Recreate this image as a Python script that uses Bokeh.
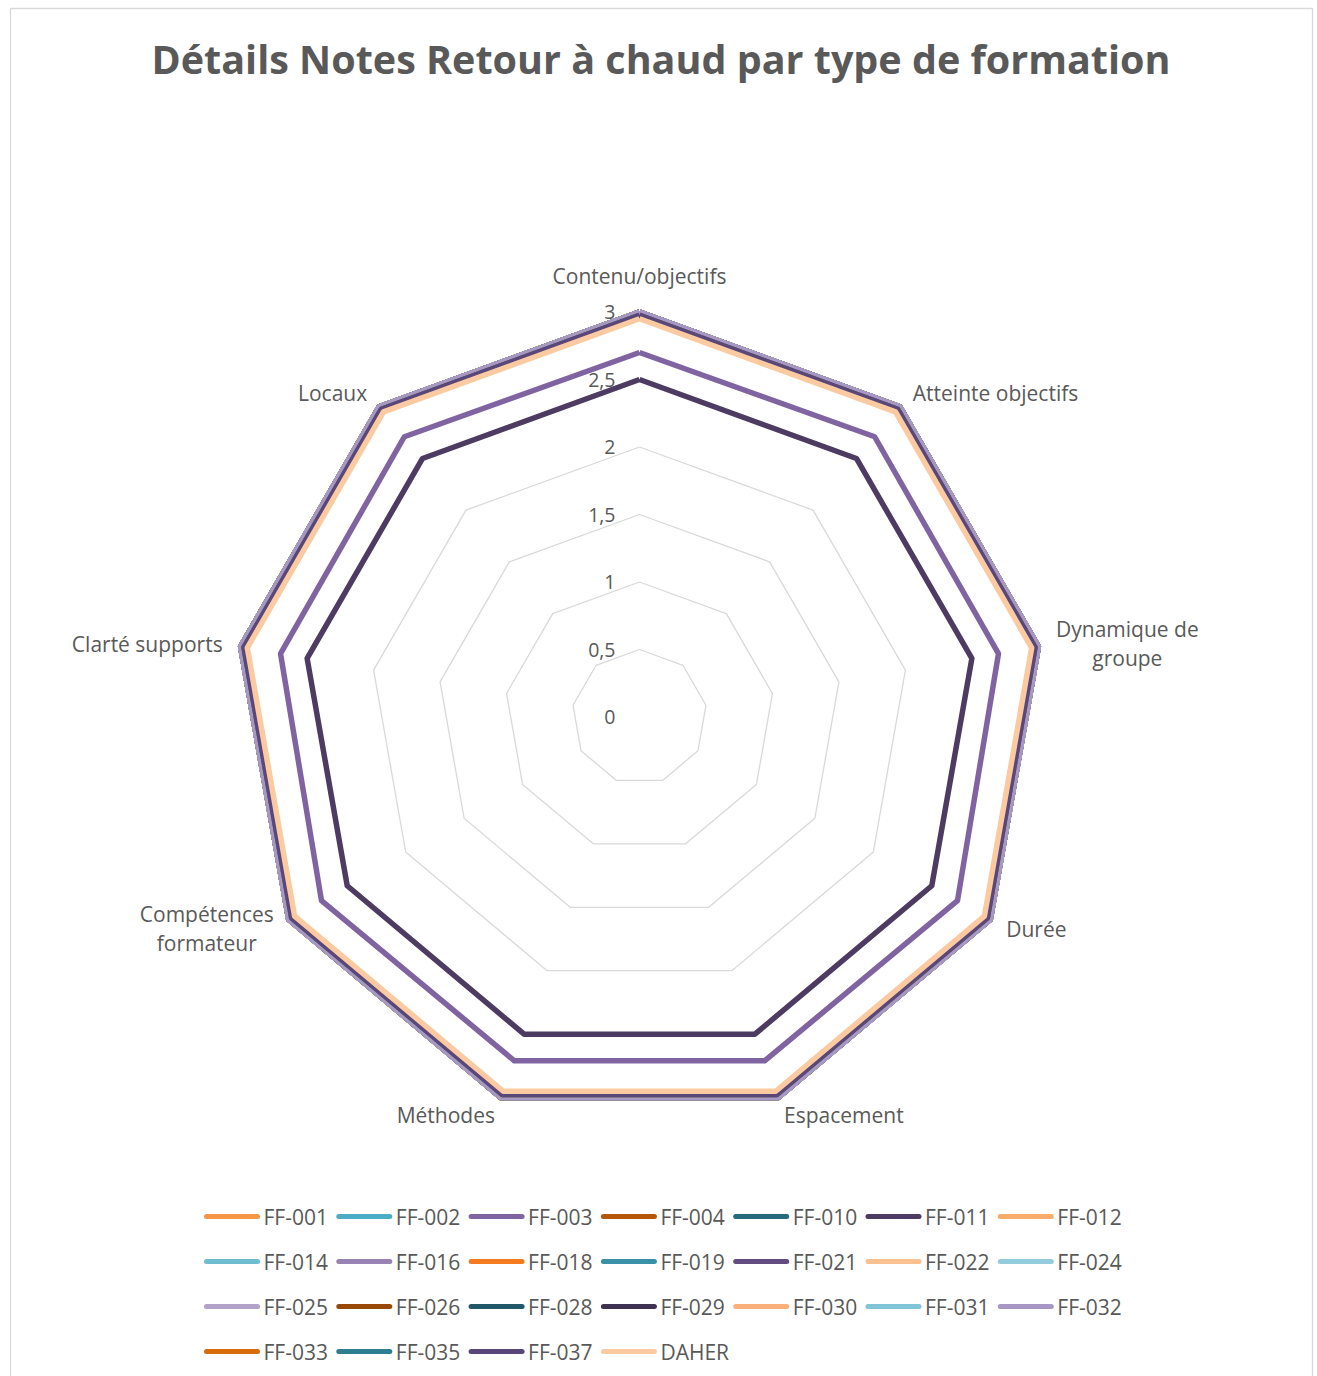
import math
from bokeh.plotting import figure
from bokeh.models import Range1d
from bokeh.core.properties import value
from bokeh.embed import file_html
from bokeh.resources import INLINE

# Radar axes (clockwise from the top)
categories = ["Contenu/objectifs", "Atteinte objectifs", "Dynamique de\ngroupe", "Durée",
              "Espacement", "Méthodes", "Compétences\nformateur", "Clarté supports", "Locaux"]

series_names = ["FF-001", "FF-002", "FF-003", "FF-004", "FF-010", "FF-011", "FF-012",
                "FF-014", "FF-016", "FF-018", "FF-019", "FF-021", "FF-022", "FF-024",
                "FF-025", "FF-026", "FF-028", "FF-029", "FF-030", "FF-031", "FF-032",
                "FF-033", "FF-035", "FF-037", "DAHER"]

series_colors = ["#F79646", "#4BACC6", "#8064A2", "#B65708", "#276A7C", "#4D3B62", "#F9AB6B",
                 "#6FBDD1", "#9983B5", "#F47B20", "#3A90A7", "#624C80", "#FBC08F", "#93CDDD",
                 "#B3A2C7", "#984807", "#205867", "#3F3151", "#FAB07A", "#7FC4D7", "#A896C4",
                 "#D86B0C", "#2E7E92", "#5A477A", "#FBCAA0"]

# Scores per training (one value per axis)
ff_001 = [3, 3, 3, 3, 3, 3, 3, 3, 3]
ff_002 = [3, 3, 3, 3, 3, 3, 3, 3, 3]
ff_003 = [2.7, 2.71, 2.7, 2.72, 2.71, 2.71, 2.72, 2.7, 2.71]
ff_004 = [3, 3, 3, 3, 3, 3, 3, 3, 3]
ff_010 = [3, 3, 3, 3, 3, 3, 3, 3, 3]
ff_011 = [2.5, 2.5, 2.5, 2.5, 2.5, 2.5, 2.5, 2.5, 2.5]
ff_012 = [3, 3, 3, 3, 3, 3, 3, 3, 3]
ff_014 = [3, 3, 3, 3, 3, 3, 3, 3, 3]
ff_016 = [3, 3, 3, 3, 3, 3, 3, 3, 3]
ff_018 = [3, 3, 3, 3, 3, 3, 3, 3, 3]
ff_019 = [3, 3, 3, 3, 3, 3, 3, 3, 3]
ff_021 = [3, 3, 3, 3, 3, 3, 3, 3, 3]
ff_022 = [3, 3, 3, 3, 3, 3, 3, 3, 3]
ff_024 = [3, 3, 3, 3, 3, 3, 3, 3, 3]
ff_025 = [3, 3, 3, 3, 3, 3, 3, 3, 3]
ff_026 = [3, 3, 3, 3, 3, 3, 3, 3, 3]
ff_028 = [3, 3, 3, 3, 3, 3, 3, 3, 3]
ff_029 = [3, 3, 3, 3, 3, 3, 3, 3, 3]
ff_030 = [3, 3, 3, 3, 3, 3, 3, 3, 3]
ff_031 = [3, 3, 3, 3, 3, 3, 3, 3, 3]
ff_032 = [3, 3, 3, 3, 3, 3, 3, 3, 3]
ff_033 = [2.975, 2.975, 2.975, 2.975, 2.975, 2.975, 2.975, 2.975, 2.975]
ff_035 = [2.975, 2.975, 2.975, 2.975, 2.975, 2.975, 2.975, 2.975, 2.975]
ff_037 = [2.975, 2.975, 2.975, 2.975, 2.975, 2.975, 2.975, 2.975, 2.975]
daher = [2.95, 2.95, 2.95, 2.95, 2.95, 2.95, 2.95, 2.95, 2.95]

series_values = [ff_001, ff_002, ff_003, ff_004, ff_010, ff_011, ff_012, ff_014, ff_016,
                 ff_018, ff_019, ff_021, ff_022, ff_024, ff_025, ff_026, ff_028, ff_029,
                 ff_030, ff_031, ff_032, ff_033, ff_035, ff_037, daher]

ring_values = [0.5, 1, 1.5, 2, 2.5, 3]
tick_values = [0, 0.5, 1, 1.5, 2, 2.5, 3]
tick_labels = ["0", "0,5", "1", "1,5", "2", "2,5", "3"]

title = "Détails Notes Retour à chaud par type de formation"

W, H = 1317, 1376
CX, CY = 639, 716.5      # radar centre (screen px)
SCALE = 135.0            # px per score unit
FONT = value("Open Sans")
TXT = "#595959"

n = len(categories)
angles = [2 * math.pi * k / n for k in range(n)]


def polygon(vals):
    xs = [CX + v * SCALE * math.sin(a) for v, a in zip(vals, angles)]
    ys = [CY - v * SCALE * math.cos(a) for v, a in zip(vals, angles)]
    return xs + xs[:1], ys + ys[:1]


p = figure(width=W, height=H, x_range=Range1d(0, W), y_range=Range1d(H, 0),
           output_backend="svg", toolbar_location=None, min_border=0,
           x_axis_location=None, y_axis_location=None)
p.xgrid.visible = False
p.ygrid.visible = False
p.outline_line_color = None
p.background_fill_color = "white"

# chart frame
p.quad(left=[10], right=[1312], top=[8], bottom=[1420], fill_color=None,
       line_color="#D9D9D9", line_width=1.3)

# title
p.text(x=[W / 2 + 2], y=[58], text=[title], text_font=FONT, text_font_style="bold",
       text_font_size="39.5px", text_color=TXT, text_align="center", text_baseline="middle")

# grid rings
for rv in ring_values:
    xs, ys = polygon([rv] * n)
    p.line(xs, ys, line_color="#D9D9D9", line_width=1.3)

# value labels along the top axis
p.text(x=[CX - 24] * len(tick_values), y=[CY - v * SCALE for v in tick_values],
       text=tick_labels, text_font=FONT, text_font_size="19.5px", text_color=TXT,
       text_align="right", text_baseline="middle")

# category labels: offset from each outer vertex
label_off = [(0, -36, "center"), (13, -14, "left"), (19, -3, "left"), (16, 9, "left"),
             (6, 17, "left"), (-6, 17, "right"), (-16, 9, "right"), (-18, -3, "right"),
             (-12, -14, "right")]
ox, oy = polygon([3] * n)
for k, cat in enumerate(categories):
    dx, dy, al = label_off[k]
    lines = cat.split("\n")
    x0 = ox[k] + dx
    y0 = oy[k] + dy
    if len(lines) > 1:
        cx_l = {"left": x0 + 70, "right": x0 - 66}[al]
        for j, ln in enumerate(lines):
            p.text(x=[cx_l], y=[y0 + (j - 0.5) * 29], text=[ln], text_font=FONT,
                   text_font_size="21px", text_color=TXT, text_align="center",
                   text_baseline="middle")
    else:
        p.text(x=[x0], y=[y0], text=[cat], text_font=FONT, text_font_size="21px",
               text_color=TXT, text_align=al, text_baseline="middle")

# series
for vals, col in zip(series_values, series_colors):
    xs, ys = polygon(vals)
    p.line(xs, ys, line_color=col, line_width=5.5, line_join="round")

# legend
cols = 7
for i, (name, col) in enumerate(zip(series_names, series_colors)):
    r, c = divmod(i, cols)
    lx = 206 + c * 132.3
    ly = 1216 + r * 45
    p.segment(x0=[lx], y0=[ly], x1=[lx + 51], y1=[ly], line_color=col, line_width=5,
              line_cap="round")
    p.text(x=[lx + 57], y=[ly], text=[name], text_font=FONT, text_font_size="21px",
           text_color=TXT, text_align="left", text_baseline="middle")

open("out.html", "w").write(file_html(p, INLINE))
